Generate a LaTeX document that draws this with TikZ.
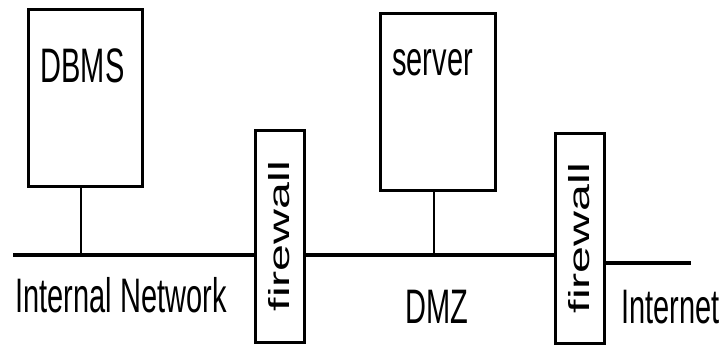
\documentclass[tikz,border=0pt]{standalone}
\usepackage{fontspec}
\setmainfont{Liberation Sans}
\newcommand{\tallt}[1]{\scalebox{1}[1.67]{#1}}
\begin{document}
\begin{tikzpicture}[x=1pt,y=-1pt,
  txt/.style={inner sep=0pt, font=\fontsize{29}{34}\selectfont},
  lbl/.style={txt, anchor=base},
  box/.style={draw, line width=3pt, inner sep=0pt, minimum width=#1},
  bus/.style={line width=4pt},
  drop/.style={line width=2.6pt}]
\useasboundingbox (0,0) rectangle (725,345);
% boxes
\node[box=114pt, minimum height=176pt] (dbms) at (85,98) {};
\node[box=115pt, minimum height=176pt] (server) at (437.5,102) {};
\node[box=49pt, minimum height=212pt, txt] (fw1) at (279.5,236) {\tallt{\rotatebox{90}{firewall}}};
\node[box=49pt, minimum height=210pt, txt] (fw2) at (579.5,238) {\tallt{\rotatebox{90}{firewall}}};
% labels
\node[lbl] (dbmslbl) at (82.5,82) {\tallt{DBMS}};
\node[lbl] (serverlbl) at (432.5,75) {\tallt{server}};
\node[lbl] (intlbl) at (121,312) {\tallt{Internal Network}};
\node[lbl] (dmzlbl) at (437,323) {\tallt{DMZ}};
\node[lbl] (inetlbl) at (670.5,323) {\tallt{Internet}};
% network lines
\coordinate (w) at (13,255);
\coordinate (e) at (691,263);
\draw[bus] (w) -- (fw1.west |- w);
\draw[bus] (fw1.east |- w) -- (fw2.west |- w);
\draw[bus] (fw2.east |- e) -- (e);
\draw[drop] ([xshift=-4pt]dbms.south) -- ([xshift=-4pt]dbms.south |- w);
\draw[drop] ([xshift=-3.5pt]server.south) -- ([xshift=-3.5pt]server.south |- w);
\end{tikzpicture}
\end{document}
